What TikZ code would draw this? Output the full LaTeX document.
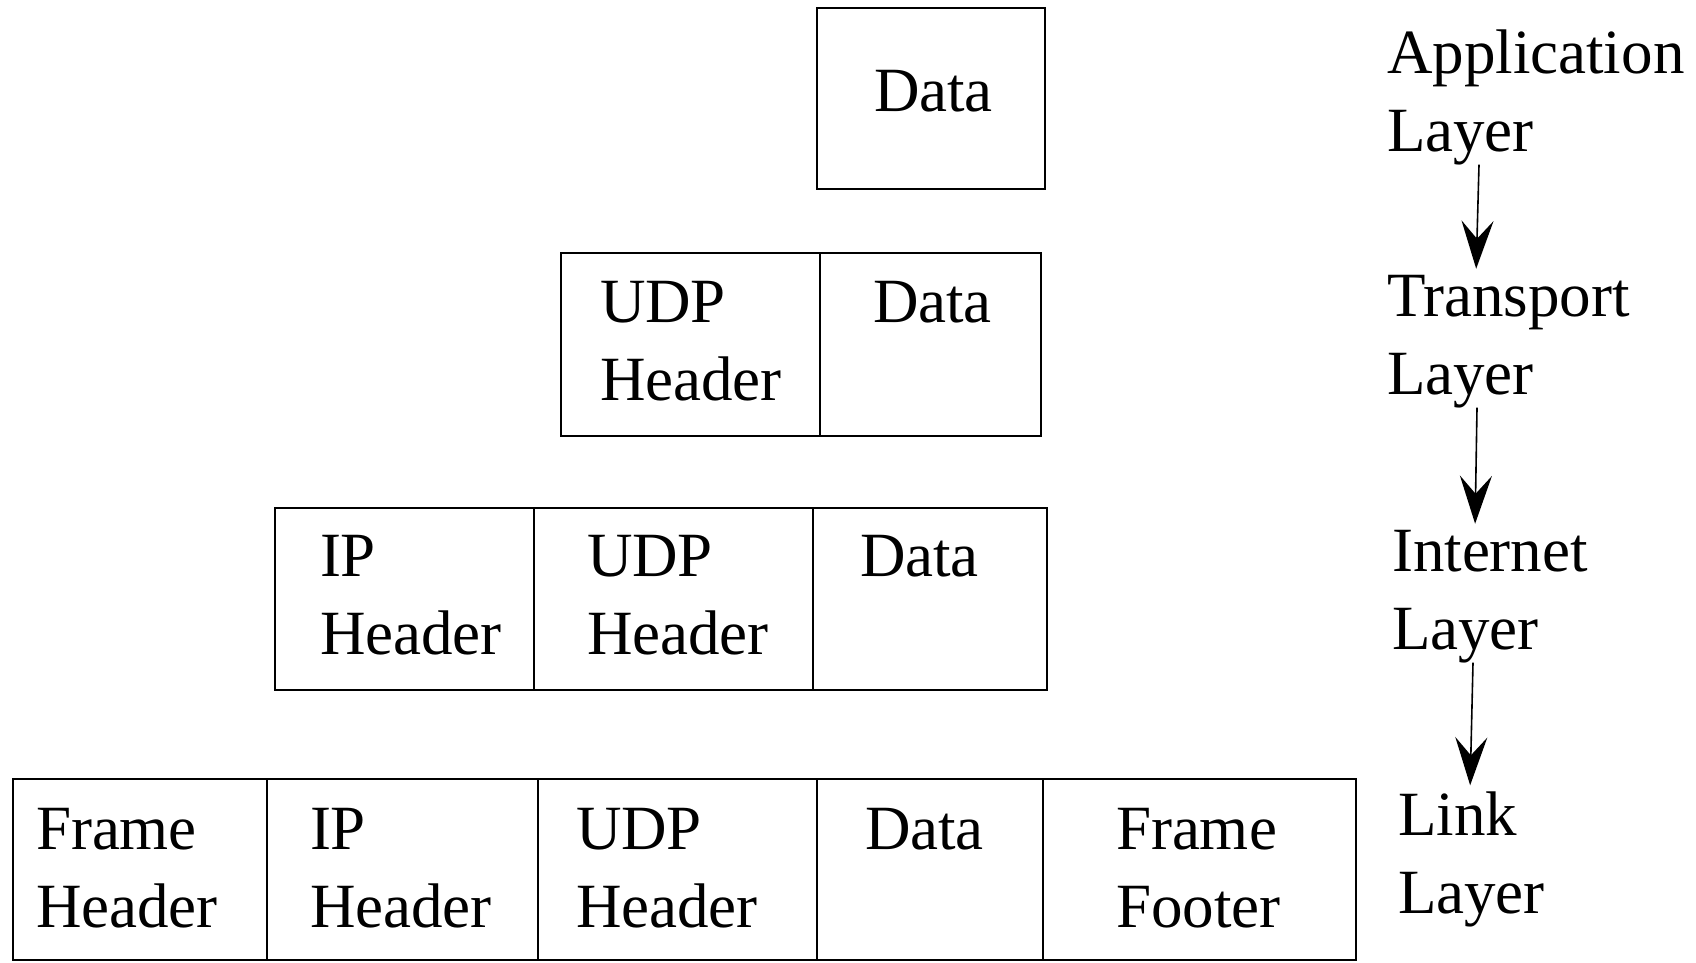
\documentclass[tikz,border=0pt]{standalone}
\usepackage{fontspec}
\setmainfont{Liberation Serif}
\usetikzlibrary{arrows.meta}

\begin{document}
\begin{tikzpicture}[x=0.5pt,y=-0.5pt,
  every node/.style={inner sep=0pt, outer sep=0pt, font=\fontsize{31.5}{39}\selectfont},
  cell/.style={draw, line width=1.2pt, anchor=north west},
  word/.style={anchor=base west, align=left},
  down/.style={-{Stealth[length=24pt,width=16pt,inset=9pt]}, line width=0.8pt, shorten >=3pt}]
\useasboundingbox (0,0) rectangle (1696,963);

% application layer
\node[cell, minimum width=114pt, minimum height=90.5pt] (ad) at (817,8) {};
\node[word] (adt) at (874,112) {Data};

% transport layer (base = last line)
\node[cell, minimum width=129.5pt, minimum height=91.5pt] (tu) at (561,253) {};
\node[cell, minimum width=110.5pt, minimum height=91.5pt] (td) at (820,253) {};
\node[word] (tut) at (600,400) {UDP\\Header};
\node[word] (tdt) at (873,322) {Data};

% internet layer
\node[cell, minimum width=129.5pt, minimum height=91pt] (ii) at (275,508) {};
\node[cell, minimum width=139.5pt, minimum height=91pt] (iu) at (534,508) {};
\node[cell, minimum width=117pt, minimum height=91pt] (id) at (813,508) {};
\node[word] (iit) at (320,654) {IP\\Header};
\node[word] (iut) at (587,654) {UDP\\Header};
\node[word] (idt) at (860,576) {Data};

% link layer
\node[cell, minimum width=127pt, minimum height=90.5pt] (lf) at (13,779) {};
\node[cell, minimum width=135.5pt, minimum height=90.5pt] (li) at (267,779) {};
\node[cell, minimum width=139.5pt, minimum height=90.5pt] (lu) at (538,779) {};
\node[cell, minimum width=113pt, minimum height=90.5pt] (ld) at (817,779) {};
\node[cell, minimum width=156.5pt, minimum height=90.5pt] (lt) at (1043,779) {};
\node[word] (lft) at (36,927) {Frame\\Header};
\node[word] (lit) at (310,927) {IP\\Header};
\node[word] (lut) at (576,927) {UDP\\Header};
\node[word] (ldt) at (865,849) {Data};
\node[word] (ltt) at (1116,927) {Frame\\Footer};

% layer names
\node[word] (appl) at (1387,151) {Application\\Layer};
\node[word] (trans) at (1387,394) {Transport\\Layer};
\node[word] (inet) at (1392,649) {Internet\\Layer};
\node[word] (link) at (1398,913) {Link\\Layer};

\draw[down] ([xshift=46pt]appl.south west) -- ([xshift=44.5pt]trans.north west);
\draw[down] ([xshift=45pt]trans.south west) -- ([xshift=41.5pt]inet.north west);
\draw[down] ([xshift=40.5pt]inet.south west) -- ([xshift=36pt]link.north west);
\end{tikzpicture}
\end{document}
